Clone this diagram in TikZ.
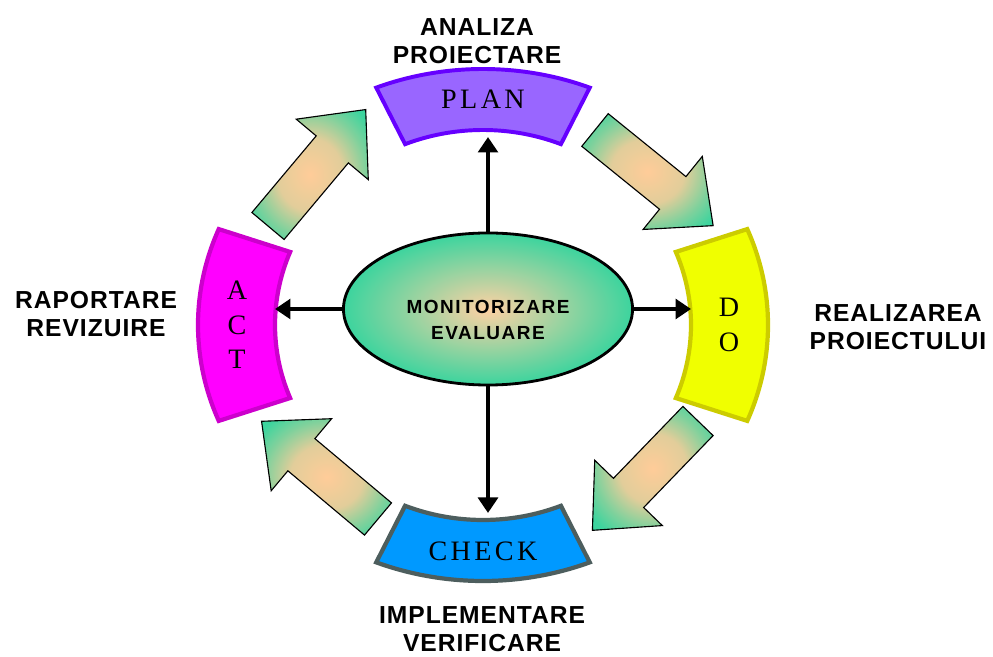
\documentclass[tikz,border=0pt]{standalone}
\usepackage{fontspec}
\usetikzlibrary{shapes,calc,arrows.meta}

\newfontfamily\lblfont[LetterSpace=4]{Liberation Sans}
\newfontfamily\monfont[LetterSpace=8]{Liberation Sans}
\newfontfamily\segfont[LetterSpace=12]{Liberation Serif}

\definecolor{planfill}{RGB}{153,102,255}
\definecolor{planline}{RGB}{102,0,255}
\definecolor{dofill}{RGB}{240,255,0}
\definecolor{doline}{RGB}{204,204,0}
\definecolor{checkfill}{RGB}{0,153,255}
\definecolor{checkline}{RGB}{77,94,94}
\definecolor{actfill}{RGB}{255,0,255}
\definecolor{actline}{RGB}{204,0,204}
\definecolor{mint}{RGB}{60,212,158}
\definecolor{peach}{RGB}{255,204,153}

\pgfdeclareradialshading{glow}{\pgfpoint{0bp}{0bp}}{%
  color(0bp)=(peach); color(14bp)=(peach!85!mint); color(24bp)=(peach!35!mint);
  color(32bp)=(mint); color(50bp)=(mint)}

% one piece of the ring, between two angles
\newcommand{\ringpart}[3]{%
  \draw[#3] (#1:285 and 256) arc[start angle=#1, end angle=#2, x radius=285, y radius=256]
    -- (#2:208 and 195) arc[start angle=#2, end angle=#1, x radius=208, y radius=195] -- cycle;}

% shaded block arrow: tail middle, angle
\newcommand{\flowarrow}[3]{%
  \begin{scope}[shift={(#1,#2)}, rotate=#3]
    \shade[arrowshade] (0,-21) -- (100,-21) -- (100,-47) -- (152,0) -- (100,47) -- (100,21) -- (0,21) -- cycle;
  \end{scope}}

\begin{document}
\begin{tikzpicture}[x=0.025cm, y=0.025cm,
  lbl/.style={font=\lblfont\bfseries\fontsize{17.5}{19.5}\selectfont, align=center},
  centertext/.style={font=\monfont\bfseries\fontsize{13.5}{18.5}\selectfont, align=center},
  segtext/.style={font=\segfont\fontsize{20}{24.5}\selectfont, align=center},
  arrowshade/.style={shading=glow, draw=black, line width=0.8pt},
  link/.style={line width=3.5pt, -{Triangle[length=11pt, width=14pt]}}]

  \useasboundingbox (0,0) rectangle (993,657);

  \begin{scope}[shift={(483,332)}]
    \ringpart{68}{112}{draw=planline, fill=planfill, line width=2.8pt}
    \ringpart{-22}{22}{draw=doline, fill=dofill, line width=3pt}
    \ringpart{248}{292}{draw=checkline, fill=checkfill, line width=3pt}
    \ringpart{158}{202}{draw=actline, fill=actfill, line width=3pt}

    \node[segtext] (plan) at (90:246 and 226) {PLAN};
    \node[segtext] (do) at (0:246 and 226) {D\\O};
    \node[segtext] (check) at (270:246 and 226) {CHECK};
    \node[segtext] (act) at (180:246 and 226) {A\\C\\T};

    \coordinate (plan-in) at (90:208 and 195);
    \coordinate (do-in) at (0:208 and 195);
    \coordinate (check-in) at (270:208 and 195);
    \coordinate (act-in) at (180:208 and 195);
  \end{scope}

  \flowarrow{595}{527}{-39}
  \flowarrow{698}{236}{-134}
  \flowarrow{378}{138}{140}
  \flowarrow{268}{431}{50}

  \node[ellipse, draw=black, line width=2pt, inner color=peach!90!white, outer color=mint,
        minimum width=7.225cm, minimum height=3.8cm] (mon) at (488,348) {};
  \node[centertext] (montext) at ($(mon.center)+(0,-11)$) {MONITORIZARE\\EVALUARE};

  \draw[link, shorten >=5pt] (mon.north) -- (mon.north |- plan-in);
  \draw[link, shorten >=5pt] (mon.south) -- (mon.south |- check-in);
  \draw[link] (mon.west) -- (mon.west -| act-in);
  \draw[link] (mon.east) -- (mon.east -| do-in);

  \node[lbl] (analiza) at (477,616) {ANALIZA\\PROIECTARE};
  \node[lbl] (raportare) at (96,343) {RAPORTARE\\REVIZUIRE};
  \node[lbl] (realizarea) at (898,330) {REALIZAREA\\PROIECTULUI};
  \node[lbl] (implementare) at (482,28) {IMPLEMENTARE\\VERIFICARE};

\end{tikzpicture}
\end{document}
